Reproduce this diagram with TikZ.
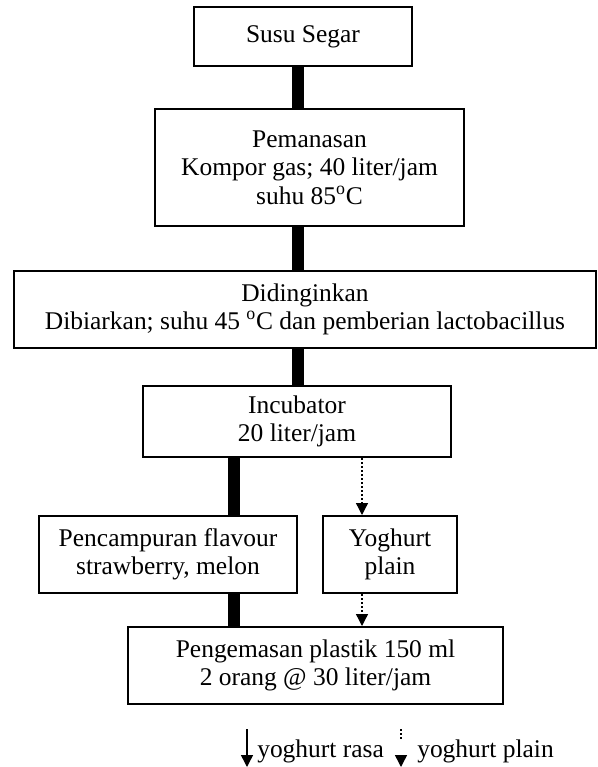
\documentclass[tikz,border=0pt]{standalone}
\usepackage{fontspec}
\setmainfont{Liberation Serif}
\usetikzlibrary{arrows.meta}
\begin{document}
\begin{tikzpicture}[x=0.75pt,y=-0.75pt,
  txt/.style={font=\fontsize{19.1}{21.4}\selectfont},
  box/.style={txt,draw,line width=1.5pt,inner sep=0pt,align=center},
  bar/.style={line width=9pt},
  tip/.style={-{Triangle[width=9pt,length=9pt]}},
  dotline/.style={line width=1pt,dash pattern=on 1.5pt off 1.5pt},
  lbl/.style={txt,inner sep=0pt}]
\useasboundingbox (0,0) rectangle (597,767);
\node[box,minimum width=163.5pt,minimum height=44.25pt] (susu) at (303,36.5) {Susu Segar};
\node[box,minimum width=231.75pt,minimum height=87.75pt] (pem) at (309.5,167.5)
  {Pemanasan\\Kompor gas; 40 liter/jam\\suhu 85\textsuperscript{o}C};
\node[box,minimum width=436.5pt,minimum height=57.75pt] (did) at (305,309.5)
  {Didinginkan\\Dibiarkan; suhu 45 \textsuperscript{o}C dan pemberian lactobacillus};
\node[box,minimum width=231pt,minimum height=53.25pt] (inc) at (297,421.5)
  {Incubator\\20 liter/jam};
\node[box,minimum width=193.5pt,minimum height=57.75pt] (pen) at (168,554.5)
  {Pencampuran flavour\\strawberry, melon};
\node[box,minimum width=100.5pt,minimum height=57.75pt] (yog) at (390,554.5)
  {Yoghurt\\plain};
\node[box,minimum width=281.25pt,minimum height=57.75pt] (kem) at (315.5,665.5)
  {Pengemasan plastik 150 ml\\2 orang @ 30 liter/jam};
\coordinate (ma) at (297.5,0);
\coordinate (mb) at (233.5,0);
\coordinate (mc) at (362,0);
\draw[bar] (susu.south -| ma) -- (pem.north -| ma);
\draw[bar] (pem.south -| ma) -- (did.north -| ma);
\draw[bar] (did.south -| ma) -- (inc.north -| ma);
\draw[bar] (inc.south -| mb) -- (pen.north -| mb);
\draw[bar] (pen.south -| mb) -- (kem.north -| mb);
\draw[dotline,tip] (inc.south -| mc) -- (yog.north -| mc);
\draw[dotline,tip] (yog.south -| mc) -- (kem.north -| mc);
% legend
\coordinate (la1) at (247,729);
\coordinate (la2) at (247,767);
\draw[line width=1.1pt,tip] (la1) -- (la2);
\node[lbl,anchor=base west] (t1) at (257,757) {yoghurt rasa};
\coordinate (lb1) at (401,729);
\coordinate (lb2) at (401,740);
\coordinate (lb3) at (401,757);
\coordinate (lb4) at (401,767);
\draw[dotline] (lb1) -- (lb2);
\draw[line width=1.1pt,tip] (lb3) -- (lb4);
\node[lbl,anchor=base west] (t2) at (417,757) {yoghurt plain};
\end{tikzpicture}
\end{document}
